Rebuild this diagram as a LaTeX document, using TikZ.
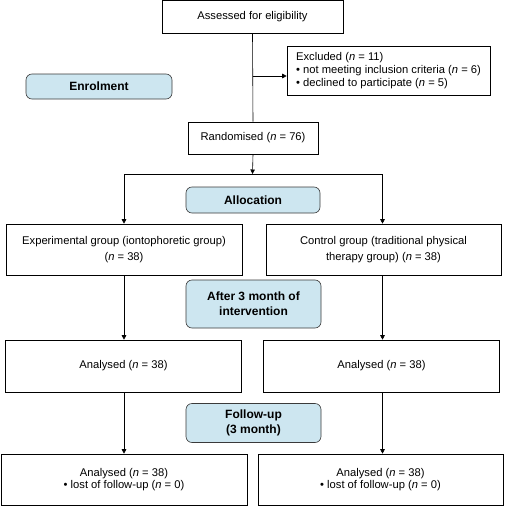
\documentclass[tikz,border=0pt]{standalone}
\usepackage{fontspec}
\setmainfont{Liberation Sans}
\usepackage{tikz}
\usetikzlibrary{arrows.meta,positioning,calc}
\definecolor{stageblue}{HTML}{CDE6F0}
\definecolor{stageline}{HTML}{3A3A3A}
\newcommand{\nn}{\textit{n}}
\tikzset{
  >={Triangle[length=4.5pt,width=4.5pt]},
  % boxes
  fbox/.style={draw=black,fill=white,line width=0.6pt,inner sep=2pt,align=center,
               font=\fontsize{11.2}{13}\selectfont},
  stage/.style={draw=stageline,fill=stageblue,line width=0.6pt,rounded corners=6pt,
                inner sep=2pt,align=center,font=\fontsize{12}{15}\selectfont\bfseries},
  % lines
  ln/.style={draw=black,line width=0.6pt},
  arr/.style={->,draw=black,line width=0.6pt},
}
\begin{document}
\begin{tikzpicture}[x=1pt,y=-1pt]
\useasboundingbox (0,0) rectangle (505,506);
  % stage labels
  \node[stage,minimum width=146pt,minimum height=25pt] (enrol) at (99,86.5) {Enrolment};
  \node[stage,minimum width=134pt,minimum height=26pt] (alloc) at (253,200) {Allocation};
  \node[stage,minimum width=135pt,minimum height=48pt] (after) at (253.5,304) {After 3 month of\\intervention};
  \node[stage,minimum width=135pt,minimum height=39pt] (follow) at (253.5,423) {Follow-up\\(3 month)};
  % flow boxes
  \node[fbox,minimum width=181pt,minimum height=33pt] (assess) at (252.5,16.8) {Assessed for eligibility};
  \node[fbox,minimum width=203pt,minimum height=49pt,align=left,
        font=\fontsize{11.2}{13.3}\selectfont] (excl) at (388.5,70.5)
    {Excluded (\nn{} = 11)\\
     \textbullet\ not meeting inclusion criteria (\nn{} = 6)\\
     \textbullet\ declined to participate (\nn{} = 5)};
  \node[fbox,minimum width=130pt,minimum height=32pt] (rand) at (253,138) {Randomised (\nn{} = 76)};
  \node[fbox,minimum width=236pt,minimum height=51pt,font=\fontsize{11.2}{16}\selectfont] (expg) at (124,249.5)
    {Experimental group (iontophoretic group)\\(\nn{} = 38)};
  \node[fbox,minimum width=235pt,minimum height=51pt,font=\fontsize{11.2}{16}\selectfont] (ctrl) at (383.5,249.5)
    {Control group (traditional physical\\therapy group) (\nn{} = 38)};
  \node[fbox,minimum width=236pt,minimum height=52pt] (anL) at (123.5,366) {Analysed (\nn{} = 38)};
  \node[fbox,minimum width=236pt,minimum height=52pt] (anR) at (381.5,366) {Analysed (\nn{} = 38)};
  \node[fbox,minimum width=246pt,minimum height=51pt,font=\fontsize{11.2}{12}\selectfont] (finL) at (124,479.5)
    {Analysed (\nn{} = 38)\\\textbullet\ lost of follow-up (\nn{} = 0)};
  \node[fbox,minimum width=245pt,minimum height=51pt,font=\fontsize{11.2}{12}\selectfont] (finR) at (380.5,479.5)
    {Analysed (\nn{} = 38)\\\textbullet\ lost of follow-up (\nn{} = 0)};
  % junctions
  \coordinate (exj) at (252.5,76);
  \coordinate (split) at (252.5,174);
  \coordinate (colL) at (124,0);
  \coordinate (colR) at (382.5,0);
  % connectors
  \draw[ln] (assess.south) -- (rand.north);
  \draw[arr] (exj) -- (excl.west |- exj);
  \draw[arr] (rand.south) -- (split);
  \draw[arr] (split) -| (colL |- expg.north);
  \draw[arr] (split) -| (colR |- ctrl.north);
  \draw[arr] (colL |- expg.south) -- (colL |- anL.north);
  \draw[arr] (colR |- ctrl.south) -- (colR |- anR.north);
  \draw[arr] (colL |- anL.south) -- (colL |- finL.north);
  \draw[arr] (colR |- anR.south) -- (colR |- finR.north);
\end{tikzpicture}
\end{document}
